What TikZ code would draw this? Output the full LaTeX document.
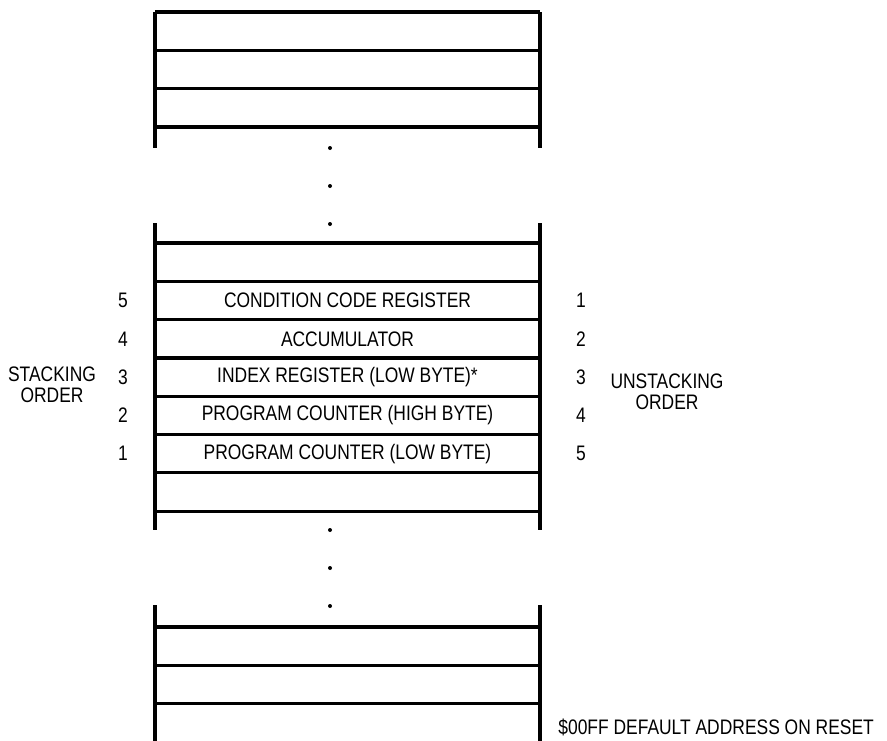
\documentclass[tikz,border=0pt]{standalone}
\usepackage{fontspec}
\setmainfont[FakeStretch=0.83]{Liberation Sans}
\usepackage{tikz}
\usetikzlibrary{positioning}

\begin{document}
\begin{tikzpicture}[x=0.5pt, y=-0.5pt,
  %% ── Styles ───────────────────────────────────────────────────────────────
  %% one unit = one pixel of the 887 x 740 sheet, y grows downwards
  wall/.style={line width=1.6pt, black},
  cell/.style={minimum width=192.5pt, minimum height=19pt, inner sep=0pt,
               font=\fontsize{10.5}{10.5}\selectfont},
  num/.style={inner sep=0pt, font=\fontsize{10.5}{10.5}\selectfont},
  lbl/.style={align=center, inner sep=0pt, font=\fontsize{10.5}{10.5}\selectfont},
  dotmark/.style={fill=black}
]
\useasboundingbox (0,0) rectangle (887,740);

%% ── Top block (y = 12 .. 148) ────────────────────────────────────────────────
\foreach \y in {12,50.3,88.6,126.9}
  \draw[wall] (155,\y) -- (540,\y);
\foreach \x in {155,540}
  \draw[wall] (\x,12) -- (\x,148);

%% ── Middle block (y = 223 .. 530) ────────────────────────────────────────────
\foreach \y in {243,281.3,319.6,357.9,396.2,434.5,472.8,511.1}
  \draw[wall] (155,\y) -- (540,\y);
\foreach \x in {155,540}
  \draw[wall] (\x,223) -- (\x,530);

%% ── Bottom block (y = 605 .. 740) ────────────────────────────────────────────
\foreach \y in {627,665.3,703.6}
  \draw[wall] (155,\y) -- (540,\y);
\foreach \x in {155,540}
  \draw[wall] (\x,605) -- (\x,742);

%% ── Dots between the blocks ──────────────────────────────────────────────────
\foreach \y in {148,186,224,530,568,606}
  \fill[dotmark] (330,\y) circle (2);

%% ── Stack bytes ──────────────────────────────────────────────────────────────
\node[cell] (ccr) at (347.5,300.5) {CONDITION CODE REGISTER};
\node[cell] (acc) at (347.5,338.8) {ACCUMULATOR};
\node[cell] (ixl) at (347.5,377.1) {INDEX REGISTER (LOW BYTE)*};
\node[cell] (pch) at (347.5,415.4) {PROGRAM COUNTER (HIGH BYTE)};
\node[cell] (pcl) at (347.5,453.7) {PROGRAM COUNTER (LOW BYTE)};

%% ── Stacking order (left) ────────────────────────────────────────────────────
\node[num] (s5) at (123,300.5) {5};
\node[num] (s4) at (123,338.8) {4};
\node[num] (s3) at (123,377.1) {3};
\node[num] (s2) at (123,415.4) {2};
\node[num] (s1) at (123,453.7) {1};
\node[lbl] (stk) at (52,385) {STACKING\\ORDER};

%% ── Unstacking order (right) ─────────────────────────────────────────────────
\node[num] (u1) at (581,300.5) {1};
\node[num] (u2) at (581,338.8) {2};
\node[num] (u3) at (581,377.1) {3};
\node[num] (u4) at (581,415.4) {4};
\node[num] (u5) at (581,453.7) {5};
\node[lbl] (ustk) at (667,392) {UNSTACKING\\ORDER};

%% ── Reset address ────────────────────────────────────────────────────────────
\node[num, anchor=west] (rst) at (558,727) {\$00FF DEFAULT ADDRESS ON RESET};

\end{tikzpicture}
\end{document}
